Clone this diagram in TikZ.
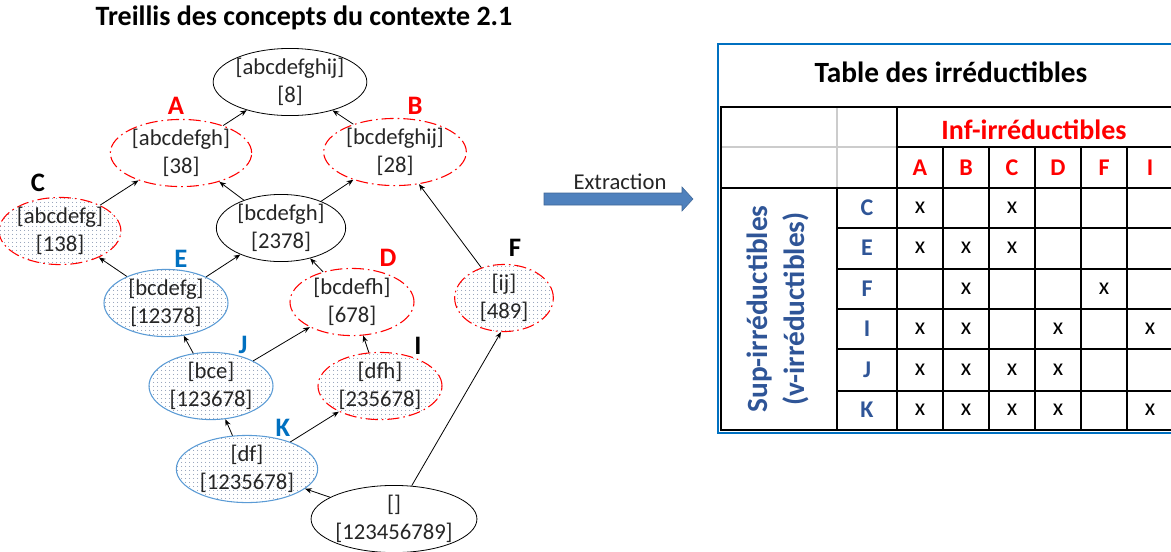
\documentclass[tikz,border=0pt]{standalone}
\usepackage{fontspec}
\setmainfont{Carlito}
\usetikzlibrary{calc}
\usetikzlibrary{shapes,arrows.meta,patterns}

\definecolor{lblblue}{RGB}{0,112,192}
\definecolor{ellblue}{RGB}{91,155,213}
\definecolor{rowblue}{RGB}{47,85,151}
\definecolor{arrblue}{RGB}{79,129,189}
\definecolor{txtgray}{RGB}{38,38,38}
\definecolor{dotcol}{RGB}{80,100,140}

\pgfdeclarepatternformonly{finedots}{\pgfpointorigin}{\pgfqpoint{3pt}{3pt}}{\pgfqpoint{3pt}{3pt}}%
  {\pgfpathcircle{\pgfqpoint{1.5pt}{1.5pt}}{0.38pt}\pgfusepath{fill}}

\begin{document}
\begin{tikzpicture}[x=0.75pt,y=-0.75pt,
    concept/.style={ellipse,draw=black,line width=0.6pt,inner sep=0pt,align=center,text=txtgray,font=\fontsize{17}{21}\selectfont},
    infirr/.style={draw=red,line width=0.8pt,dash pattern=on 9pt off 3pt on 1.2pt off 3pt},
    supirr/.style={draw=ellblue,line width=0.8pt},
    dotfill/.style={pattern=finedots,pattern color=dotcol},
    lbl/.style={font=\fontsize{20}{24}\selectfont\bfseries},
    link/.style={-{Stealth[length=5pt,width=4pt]},line width=0.6pt},
    grid/.style={line width=1.2pt},
    thickgrid/.style={line width=1.8pt},
    greygrid/.style={line width=1.2pt,draw=black!20},
    head/.style={font=\fontsize{18}{22}\selectfont\bfseries},
    xcell/.style={font=\fontsize{18}{22}\selectfont}
  ]
    \useasboundingbox (0,0) rectangle (1171,551);
    \clip (0,0) rectangle (1171,551);

    % lattice
    \node[font=\fontsize{21}{25}\selectfont\bfseries] (Title) at (304,18) {Treillis des concepts du contexte 2.1};

    \node[concept,minimum width=106pt,minimum height=46pt] (Top) at (290,82) {[abcdefghij]\\{[8]}};
    \node[concept,infirr,minimum width=106pt,minimum height=46pt] (ConA) at (181,153) {[abcdefgh]\\{[38]}};
    \node[concept,infirr,minimum width=107pt,minimum height=46pt] (ConB) at (395,152) {[bcdefghij]\\{[28]}};
    \node[concept,infirr,dotfill,minimum width=75pt,minimum height=46pt] (ConC) at (60,231) {[abcdefg]\\{[138]}};
    \node[concept,minimum width=97pt,minimum height=48pt] (Mid) at (281,228) {[bcdefgh]\\{[2378]}};
    \node[concept,supirr,dotfill,minimum width=93pt,minimum height=45pt] (ConE) at (166,303) {[bcdefg]\\{[12378]}};
    \node[concept,infirr,minimum width=93pt,minimum height=45pt] (ConD) at (352,302) {[bcdefh]\\{[678]}};
    \node[concept,infirr,dotfill,minimum width=74pt,minimum height=48pt] (ConF) at (504,298) {[ij]\\{[489]}};
    \node[concept,supirr,dotfill,minimum width=93pt,minimum height=46pt] (ConJ) at (211,386) {[bce]\\{[123678]}};
    \node[concept,infirr,dotfill,minimum width=93pt,minimum height=46pt] (ConI) at (380,386) {[dfh]\\{[235678]}};
    \node[concept,supirr,dotfill,minimum width=106pt,minimum height=45pt] (ConK) at (247,469) {[df]\\{[1235678]}};
    \node[concept,minimum width=121pt,minimum height=46pt] (Bot) at (394,519) {[]\\{[123456789]}};

    \node[lbl,text=red] (LabA) at (176,106) {A};
    \node[lbl,text=red] (LabB) at (415,106) {B};
    \node[lbl] (LabC) at (38,183) {C};
    \node[lbl,text=red] (LabD) at (388,258) {D};
    \node[lbl,text=lblblue] (LabE) at (181,259) {E};
    \node[lbl] (LabF) at (515,248) {F};
    \node[lbl,text=lblblue] (LabJ) at (243,345) {J};
    \node[lbl] (LabI) at (418,346) {I};
    \node[lbl,text=lblblue] (LabK) at (283,428) {K};

    \draw[link] (ConA) -- (Top);
    \draw[link] (ConB) -- (Top);
    \draw[link] (ConC) -- (ConA);
    \draw[link] (Mid) -- (ConA);
    \draw[link] (Mid) -- (ConB);
    \draw[link] (ConF) -- (ConB);
    \draw[link] (ConE) -- (ConC);
    \draw[link] (ConE) -- (Mid);
    \draw[link] (ConD) -- (Mid);
    \draw[link] (ConJ) -- (ConE);
    \draw[link] (ConJ) -- (ConD);
    \draw[link] (ConI) -- (ConD);
    \draw[link] (ConK) -- (ConJ);
    \draw[link] (ConK) -- (ConI);
    \draw[link] (Bot) -- (ConK);
    \draw[link] (Bot.62) -- (ConF.-95);

    % extraction arrow
    \node[font=\fontsize{17}{21}\selectfont,text=txtgray] (Extr) at (620,182) {Extraction};
    \fill[arrblue,draw=arrblue!80!black,line width=0.4pt] (544,193) -- (682,193) -- (682,187) -- (693,199) -- (682,211) -- (682,205) -- (544,205) -- cycle;

    % table
    \draw[line width=1.5pt,draw=lblblue] (1180,44) -- (718,44) -- (718,433) -- (1180,433);
    \node[font=\fontsize{22}{26}\selectfont\bfseries] (TabTitle) at (951,72) {Table des irréductibles};
    \draw[greygrid] (720,147) -- (897,147);
    \draw[greygrid] (837,107) -- (837,188);
    \draw[thickgrid] (720,107) -- (1180,107);
    \draw[thickgrid] (720,188) -- (1180,188);
    \draw[thickgrid] (720,430) -- (1180,430);
    \draw[grid] (897,147) -- (1180,147);
    \draw[grid] (721,107) -- (721,430);
    \draw[grid] (837,188) -- (837,430);
    \draw[grid] (897,107) -- (897,430);
    \foreach \x in {943,989,1035,1081,1127}
      \draw[grid] (\x,147) -- (\x,430);
    \foreach \y in {228,269,309,349,391}
      \draw[grid] (837,\y) -- (1180,\y);

    \node[font=\fontsize{21}{25}\selectfont\bfseries,text=red] (InfLbl) at (1034,130) {Inf-irréductibles};
    \node[rotate=90,align=center,text=rowblue,font=\fontsize{22}{27.5}\selectfont\bfseries] (SupLbl) at (778,309) {Sup-irréductibles\\(v-irréductibles)};

    \foreach \c/\x in {A/920,B/966,C/1012,D/1058,F/1104,I/1150}
      \node[head,text=red] (Col\c) at (\x,168) {\c};
    \foreach \r/\y in {C/208,E/248,F/289,I/329,J/370,K/410}
      \node[head,text=rowblue] (Row\r) at (867,\y) {\r};
    \foreach \c/\r in {A/C,C/C,A/E,B/E,C/E,B/F,F/F,A/I,B/I,D/I,I/I,A/J,B/J,C/J,D/J,A/K,B/K,C/K,D/K,I/K}
      \node[xcell] at (Col\c |- Row\r) {x};
\end{tikzpicture}
\end{document}
